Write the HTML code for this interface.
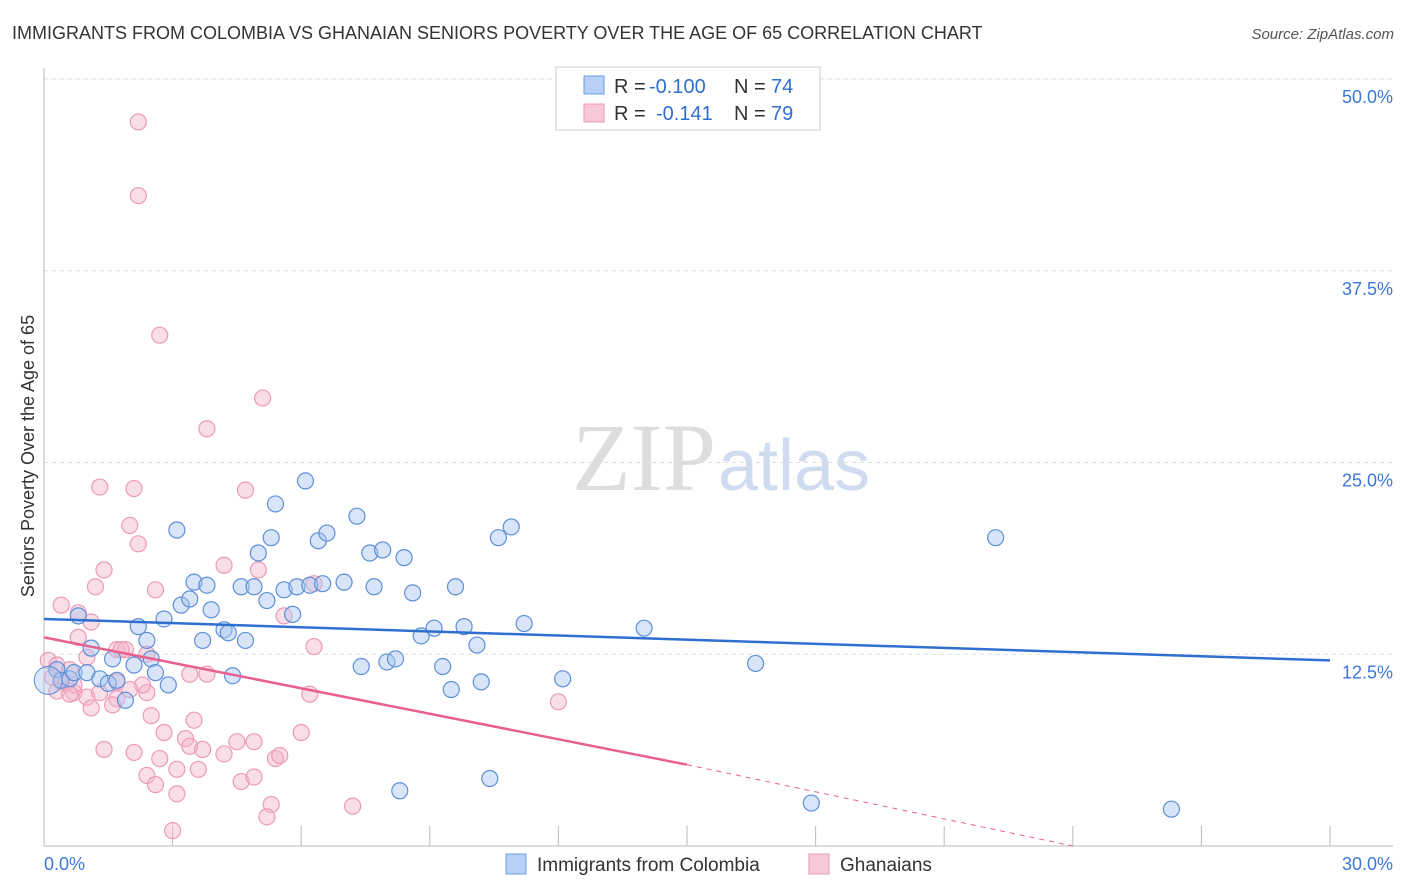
<!DOCTYPE html>
<html><head><meta charset="utf-8"><style>
body{margin:0;background:#fff;font-family:"Liberation Sans",sans-serif;}
svg{display:block}
</style></head><body>
<svg id="chart" width="1406" height="892">
<text x="12" y="39" font-size="18" fill="#333">IMMIGRANTS FROM COLOMBIA VS GHANAIAN SENIORS POVERTY OVER THE AGE OF 65 CORRELATION CHART</text>
<text x="1394" y="39" font-size="15" fill="#555" text-anchor="end" font-style="italic">Source: ZipAtlas.com</text>
<text x="716" y="490" font-size="96" fill="#ddd" text-anchor="end" font-family="Liberation Serif">ZIP</text>
<text x="718" y="490" font-size="72" fill="#cfdcef">atlas</text>
<g id="grid"></g>
<g id="axes"></g>
<g id="marks"></g>
<text transform="translate(34,456) rotate(-90)" font-size="18" fill="#333" text-anchor="middle">Seniors Poverty Over the Age of 65</text>
<g>
<rect x="556" y="67" width="264" height="63" fill="#fff" stroke="#ccc"/>
<rect x="584" y="76" width="20" height="18" fill="#b8d0f5" stroke="#6d9be0"/>
<rect x="584" y="104" width="20" height="18" fill="#f8c8d6" stroke="#ec9ab5"/>
<text x="614" y="93" font-size="20" fill="#333">R =</text>
<text x="649" y="93" font-size="20" fill="#2f6fd0">-0.100</text>
<text x="734" y="93" font-size="20" fill="#333">N =</text>
<text x="771" y="93" font-size="20" fill="#2f6fd0">74</text>
<text x="614" y="120" font-size="20" fill="#333">R =</text>
<text x="656" y="120" font-size="20" fill="#2f6fd0">-0.141</text>
<text x="734" y="120" font-size="20" fill="#333">N =</text>
<text x="771" y="120" font-size="20" fill="#2f6fd0">79</text>
</g>
<g>
<rect x="506" y="854" width="20" height="20" fill="#b8d0f5" stroke="#6d9be0"/>
<text x="537" y="871" font-size="19" fill="#333">Immigrants from Colombia</text>
<rect x="809" y="854" width="20" height="20" fill="#f8c8d6" stroke="#ec9ab5"/>
<text x="840" y="871" font-size="19" fill="#333">Ghanaians</text>
</g>
</svg>
<script>
const yTicks=[12.5,25,37.5,50];
const yTickLabels=["12.5%","25.0%","37.5%","50.0%"];
const xTickLabels=["0.0%","30.0%"];
const blueX=[0.3,0.4,0.6,0.7,0.8,1.0,1.1,1.3,1.5,1.6,1.7,1.9,2.1,2.2,2.4,2.5,2.6,2.8,2.9,3.1,3.2,3.4,3.5,3.7,3.8,3.9,4.2,4.3,4.4,4.6,4.7,4.9,5.0,5.2,5.3,5.4,5.6,5.8,5.9,6.1,6.2,6.4,6.5,6.6,7.0,7.3,7.4,7.6,7.7,7.9,8.0,8.2,8.4,8.6,8.8,9.1,9.3,9.5,9.6,9.8,10.1,10.2,10.4,10.6,10.9,11.2,12.1,8.3,14.0,16.6,17.9,22.2,26.3];
const blueY=[11.5,10.8,10.9,11.3,15.0,11.3,12.9,10.9,10.6,12.2,10.8,9.5,11.8,14.3,13.4,12.2,11.3,14.8,10.5,20.6,15.7,16.1,17.2,13.4,17.0,15.4,14.1,13.9,11.1,16.9,13.4,16.9,19.1,16.0,20.1,22.3,16.7,15.1,16.9,23.8,17.0,19.9,17.1,20.4,17.2,21.5,11.7,19.1,16.9,19.3,12.0,12.2,18.8,16.5,13.7,14.2,11.7,10.2,16.9,14.3,13.1,10.7,4.4,20.1,20.8,14.5,10.9,3.6,14.2,11.9,2.8,20.1,2.4];
const pinkX=[2.2,2.2,2.7,5.1,3.8,1.3,2.1,4.7,2.0,2.2,1.4,4.2,5.0,1.2,2.6,6.3,0.4,0.8,1.1,5.6,6.3,0.8,0.1,0.3,0.6,1.0,1.7,1.9,2.4,0.2,0.4,0.7,1.0,1.3,1.7,1.7,1.6,1.1,2.4,2.5,3.4,3.8,2.3,3.5,2.8,3.3,3.4,3.7,4.2,4.5,4.9,5.4,5.5,6.0,6.2,1.4,2.1,2.7,3.1,3.6,2.4,2.6,3.1,4.6,4.9,5.3,5.2,7.2,3.0,12.0,1.8,2.0,0.5,0.7,0.3,0.6];
const pinkY=[47.2,42.4,33.3,29.2,27.2,23.4,23.3,23.2,20.9,19.7,18.0,18.3,18.0,16.9,16.7,17.1,15.7,15.2,14.6,15.0,13.0,13.6,12.1,11.8,11.5,12.3,12.8,12.8,12.5,11.0,10.7,10.0,9.7,10.0,10.7,9.6,9.2,9.0,10.0,8.5,11.2,11.2,10.5,8.2,7.4,7.0,6.5,6.3,6.0,6.8,6.8,5.7,5.9,7.4,9.9,6.3,6.1,5.7,5.0,5.0,4.6,4.0,3.4,4.2,4.5,2.7,1.9,2.6,1.0,9.4,12.8,10.2,10.6,10.5,10.1,9.9];
const blueTrend=[14.8,12.1];
const pinkTrend=[13.6,5.3,0.0];
const W0=44,W1=1330,H0=846,H1=79;
const sx=v=>W0+(v/30)*(W1-W0);
const sy=v=>H0-(v/50)*(H0-H1);
const NS="http://www.w3.org/2000/svg";
function mk(tag,attrs,parent){const e=document.createElementNS(NS,tag);for(const k in attrs)e.setAttribute(k,attrs[k]);parent.appendChild(e);return e;}
const grid=document.getElementById('grid'),axes=document.getElementById('axes'),marks=document.getElementById('marks');
yTicks.forEach((t,i)=>{
 const l=mk('line',{x1:W0,x2:1393,y1:sy(t),y2:sy(t),stroke:'#ddd','stroke-dasharray':'4,4'},grid);
 
 
 const tx=mk('text',{x:1393,y:sy(t)+24,'font-size':18,fill:'#3b78d8','text-anchor':'end'},axes);
 tx.textContent=yTickLabels[i];
 
 
});
const ax=mk('line',{x1:W0,x2:W0,y1:68,y2:H0,stroke:'#bbb'},axes);


const bx=mk('line',{x1:W0,x2:1393,y1:H0,y2:H0,stroke:'#bbb'},axes);


for(let i=0;i<=10;i++){const t=mk('line',{x1:sx(i*3),x2:sx(i*3),y1:H0-20,y2:H0,stroke:'#bbb'},axes);
 
 }
[[0,'start',44],[30,'end',1393]].forEach((d,i)=>{const t=mk('text',{x:d[2],y:870,'font-size':18,fill:'#3b78d8','text-anchor':d[1]},axes);t.textContent=xTickLabels[i];
 
 });
function pts(X,Y,fill,stroke,name){X.forEach((x,i)=>{const c=mk('circle',{cx:sx(x),cy:sy(Y[i]),r:8,fill:fill,'fill-opacity':0.45,stroke:stroke,'stroke-width':1.2},marks);
 
 });}
pts(pinkX,pinkY,'#f4b6c9','#ec9ab5','point-ghanaians');
pts(blueX,blueY,'#a9c6ef','#5d8fd8','point-colombia');
const big=mk('circle',{cx:sx(0.1),cy:sy(10.8),r:14,fill:'#a9c6ef','fill-opacity':0.4,stroke:'#5d8fd8'},marks);


const bl=mk('line',{x1:sx(0),y1:sy(blueTrend[0]),x2:sx(30),y2:sy(blueTrend[1]),stroke:'#2f6fd0','stroke-width':2.5},marks);


const pl=mk('line',{x1:sx(0),y1:sy(pinkTrend[0]),x2:sx(15),y2:sy(pinkTrend[1]),stroke:'#e8608f','stroke-width':2.5},marks);


const pd=mk('line',{x1:sx(15),y1:sy(pinkTrend[1]),x2:sx(24),y2:sy(pinkTrend[2]),stroke:'#e8608f','stroke-width':1,'stroke-dasharray':'5,5'},marks);


</script>
</body></html>
